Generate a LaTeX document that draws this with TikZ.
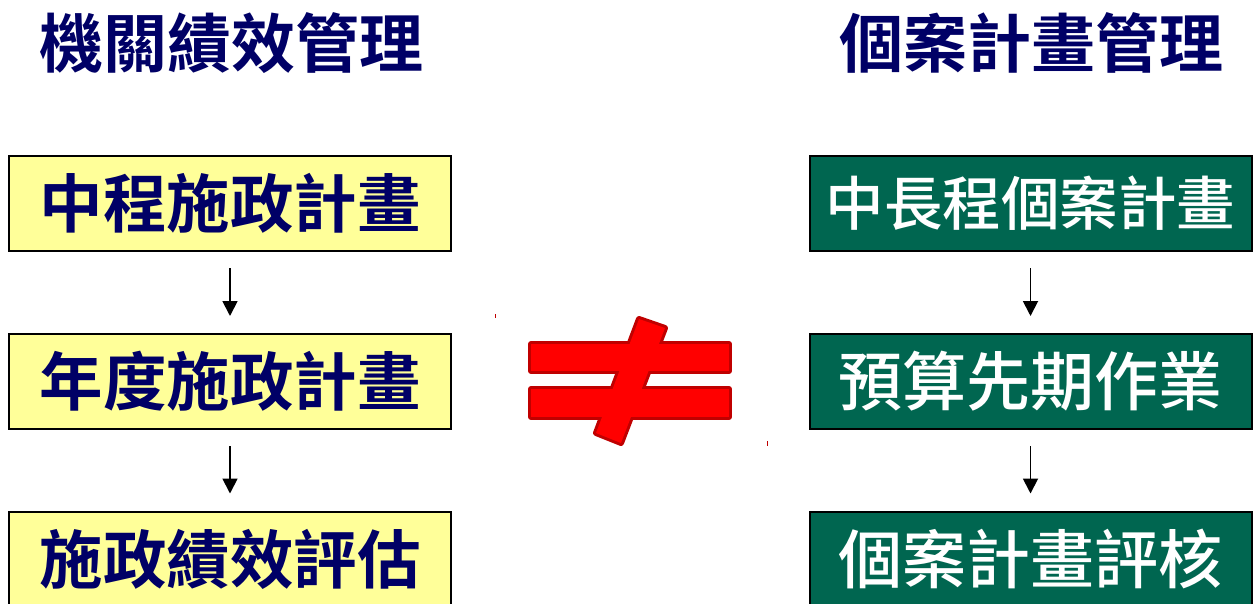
\documentclass[tikz,border=0pt]{standalone}
\usepackage{fontspec}
\usetikzlibrary{arrows.meta}
\newfontfamily\cjkb{Noto Sans CJK TC Bold}
\newfontfamily\cjkm{Noto Sans CJK TC Medium}
\definecolor{navytext}{RGB}{0,0,102}
\definecolor{boxyellow}{RGB}{255,255,153}
\definecolor{boxgreen}{RGB}{0,102,80}
\definecolor{neqred}{RGB}{255,0,0}
\definecolor{neqdark}{RGB}{192,0,0}
\tikzset{
  titletext/.style={inner sep=0pt, text=navytext, font=\cjkb\fontsize{64}{64}\selectfont},
  leftbox/.style={draw=black, line width=2pt, fill=boxyellow, minimum width=442pt, minimum height=95pt, inner sep=0pt, text=navytext, font=\cjkb\fontsize{63.5}{64}\selectfont},
  rightbox/.style={draw=black, line width=2pt, fill=boxgreen, minimum width=442pt, minimum height=95pt, inner sep=0pt, text=white, font=\cjkm\fontsize{64}{64}\selectfont},
  flowarrow/.style={draw=black, line width=1.8pt, -{Triangle[width=15pt,length=15pt]}, shorten <=16pt, shorten >=17pt},
  neqshape/.style={draw=neqdark, line width=6pt, line join=round},
  neqfill/.style={fill=neqred}
}
\begin{document}
\begin{tikzpicture}[x=1pt,y=-1pt]
\useasboundingbox (0,0) rectangle (1255,603);
\clip (0,0) rectangle (1255,603);
% titles
\node[titletext] (tl) at (231,43) {機關績效管理};
\node[titletext] (tr) at (1031,43) {個案計畫管理};
% left column
\node[leftbox] (l1) at (230,203.5) {中程施政計畫};
\node[leftbox] (l2) at (230,381.5) {年度施政計畫};
\node[leftbox] (l3) at (230,559) {施政績效評估};
% right column
\node[rightbox, font=\cjkm\fontsize{58.5}{58}\selectfont] (r1) at (1030.5,203.5) {中長程個案計畫};
\node[rightbox] (r2) at (1030.5,381.5) {預算先期作業};
\node[rightbox] (r3) at (1030.5,559) {個案計畫評核};
% arrows
\draw[flowarrow] (l1.south) -- (l2.north);
\draw[flowarrow] (l2.south) -- (l3.north);
\draw[flowarrow] (r1.south) -- (r2.north);
\draw[flowarrow] (r2.south) -- (r3.north);
% not-equal sign
\draw[neqshape] (531,344) rectangle (729,371);
\draw[neqshape] (531,389) rectangle (729,417);
\draw[neqshape] (639,319) -- (665,328) -- (621,443) -- (596,433) -- cycle;
\fill[neqfill] (531,344) rectangle (729,371);
\fill[neqfill] (531,389) rectangle (729,417);
\fill[neqfill] (639,319) -- (665,328) -- (621,443) -- (596,433) -- cycle;
% tiny marks
\draw[neqdark, line width=1pt] (495,314) -- (495,318);
\draw[neqdark, line width=1pt] (767,441) -- (767,446);
\end{tikzpicture}
\end{document}
